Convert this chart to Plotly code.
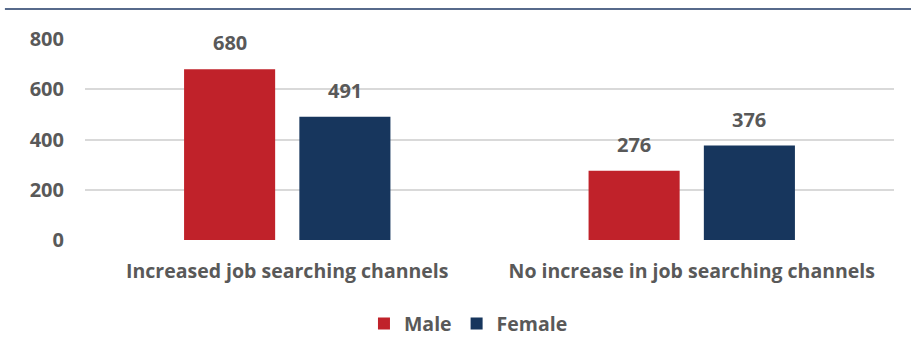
import plotly.graph_objects as go

categories = ["Increased job searching channels", "No increase in job searching channels"]
male = [680, 276]
female = [491, 376]
series_names = ["Male", "Female"]
tick_vals = [0, 200, 400, 600, 800]

RED = "#C0222A"
NAVY = "#17365D"
GRAY = "#595959"
FONT = "Open Sans"
NUM = dict(family=FONT, size=20, color=GRAY, weight="bold")
TXT = dict(family=FONT, size=19.5, color=GRAY, weight="bold")

BARGAP = 0.43
CAT_PX = 404  # pixel width of one category band
SLOT = CAT_PX * (1 - BARGAP) / 2

fig = go.Figure()
annotations = []
for i, (name, vals, col) in enumerate([(series_names[0], male, RED), (series_names[1], female, NAVY)]):
    fig.add_trace(go.Bar(
        name=name, x=categories, y=vals,
        marker=dict(color=col, line=dict(width=0)),
        cliponaxis=False,
    ))
    shift = (-0.5 if i == 0 else 0.5) * SLOT
    for c, v in zip(categories, vals):
        annotations.append(dict(x=c, y=v, xref="x", yref="y", text=str(v), showarrow=False,
                                xanchor="center", yanchor="bottom", xshift=shift, yshift=11,
                                font=NUM))

fig.update_layout(
    width=911, height=358,
    margin=dict(l=85, r=17, t=39, b=118),
    paper_bgcolor="white", plot_bgcolor="white",
    barmode="group", bargap=BARGAP, bargroupgap=0.21,
    font=TXT,
    showlegend=True,
    legend=dict(orientation="h", x=0.474, xanchor="center", y=-0.32, yanchor="top",
                font=TXT, itemwidth=30, traceorder="normal"),
    xaxis=dict(showgrid=False, showline=False, ticks="", ticklabelstandoff=17,
               tickfont=TXT),
    yaxis=dict(range=[0, 800], tickvals=tick_vals, showgrid=True, gridcolor="#D9D9D9",
               gridwidth=1.5, zeroline=False, ticks="", ticklabelstandoff=20,
               tickfont=NUM),
    annotations=annotations,
    shapes=[dict(type="line", xref="paper", yref="paper", x0=-0.099, x1=1.03, y0=1.149, y1=1.149,
                 line=dict(color="#1F3864", width=1.5))],
)

fig.write_html("out.html", config={"displayModeBar": False},
               post_script="document.body.style.margin='0';")
